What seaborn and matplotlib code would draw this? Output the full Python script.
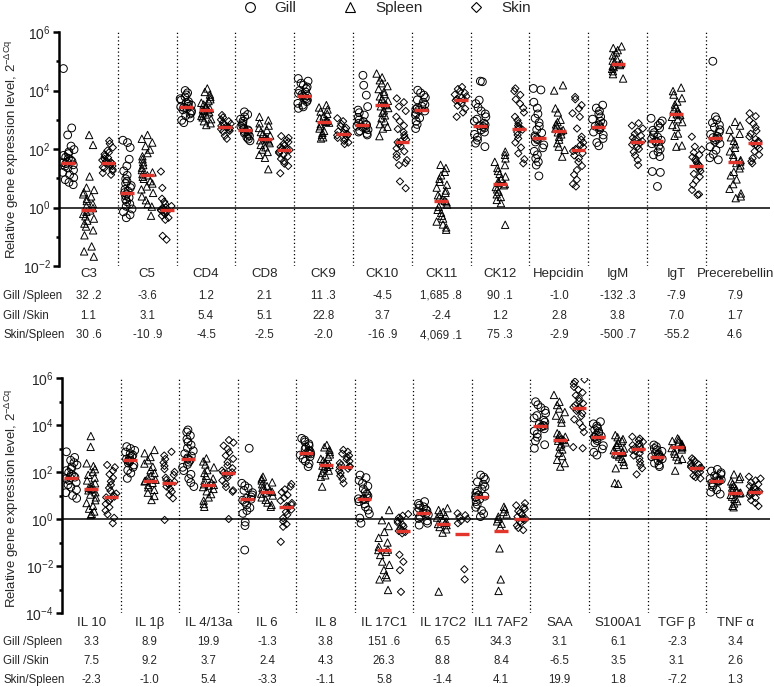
import numpy as np
import pandas as pd
import matplotlib
matplotlib.use("Agg")
import matplotlib.pyplot as plt
import matplotlib.transforms as mtrans
from matplotlib.lines import Line2D
from matplotlib.ticker import NullFormatter
import seaborn as sns

# ---------------------------------------------------------------- data
tissues = ["Gill", "Spleen", "Skin"]

top_genes = ["C3", "C5", "CD4", "CD8", "CK9", "CK10", "CK11", "CK12",
             "Hepcidin", "IgM", "IgT", "Precerebellin"]
bottom_genes = ["IL 10", "IL 1β", "IL 4/13a", "IL 6", "IL 8", "IL 17C1",
                "IL 17C2", "IL1 7AF2", "SAA", "S100A1", "TGF β", "TNF α"]

# log10(2^-dCq) per fish (one list per gene)
top_gill = [
    [4.75, 2.72, 2.48, 2.10, 1.98, 1.90, 1.84, 1.78, 1.72, 1.68, 1.63, 1.58, 1.55, 1.53, 1.50, 1.46, 1.41, 1.35, 1.28, 1.20, 1.12, 1.02, 0.95, 0.86, 0.78],
    [2.30, 2.22, 2.05, 1.65, 1.42, 1.25, 1.10, 0.98, 0.90, 0.82, 0.75, 0.68, 0.62, 0.56, 0.51, 0.46, 0.40, 0.34, 0.27, 0.20, 0.12, 0.04, -0.05, -0.15, -0.25, -0.35],
    [4.00, 3.92, 3.85, 3.78, 3.72, 3.67, 3.62, 3.58, 3.54, 3.50, 3.46, 3.44, 3.42, 3.38, 3.34, 3.30, 3.25, 3.20, 3.14, 3.06, 2.98, 2.90],
    [3.27, 3.18, 3.10, 3.02, 2.95, 2.88, 2.82, 2.77, 2.72, 2.68, 2.65, 2.62, 2.58, 2.54, 2.50, 2.45, 2.40, 2.34, 2.28],
    [4.41, 4.32, 4.25, 4.18, 4.12, 4.06, 4.00, 3.95, 3.90, 3.86, 3.82, 3.80, 3.76, 3.72, 3.67, 3.62, 3.56, 3.50, 3.44, 3.39],
    [4.52, 4.18, 3.84, 3.45, 3.33, 3.24, 3.16, 3.08, 3.00, 2.94, 2.88, 2.84, 2.82, 2.78, 2.74, 2.70, 2.66, 2.62, 2.58, 2.53, 2.48],
    [4.01, 3.92, 3.84, 3.76, 3.68, 3.60, 3.52, 3.46, 3.40, 3.36, 3.33, 3.30, 3.24, 3.16, 3.06, 2.95, 2.84, 2.70],
    [4.32, 4.30, 3.67, 3.55, 3.42, 3.30, 3.20, 3.10, 3.02, 2.95, 2.88, 2.83, 2.80, 2.77, 2.72, 2.66, 2.58, 2.50, 2.40, 2.30, 2.20, 2.08],
    [4.07, 4.02, 3.60, 3.40, 3.20, 3.05, 2.90, 2.78, 2.66, 2.55, 2.45, 2.40, 2.36, 2.32, 2.24, 2.14, 2.04, 1.92, 1.80, 1.68, 1.56, 1.45, 1.08],
    [3.50, 3.40, 3.30, 3.20, 3.10, 3.02, 2.95, 2.88, 2.82, 2.78, 2.76, 2.72, 2.66, 2.58, 2.48, 2.36, 2.22, 2.11],
    [3.05, 2.96, 2.88, 2.80, 2.72, 2.64, 2.56, 2.48, 2.41, 2.35, 2.30, 2.27, 2.24, 2.18, 2.10, 2.00, 1.90, 1.80, 1.74, 1.23, 1.20, 0.72],
    [5.00, 3.10, 3.00, 2.90, 2.82, 2.74, 2.66, 2.58, 2.50, 2.44, 2.39, 2.36, 2.32, 2.26, 2.18, 2.08, 1.96, 1.82, 1.70, 1.63],
]
top_spleen = [
    [2.48, 2.14, 1.06, 0.68, 0.60, 0.52, 0.45, 0.38, 0.30, 0.22, 0.12, 0.05, -0.02, -0.10, -0.15, -0.22, -0.30, -0.38, -0.45, -0.55, -0.65, -0.78, -0.95, -1.33, -1.50, -1.68],
    [2.48, 2.35, 2.22, 2.10, 1.98, 1.86, 1.75, 1.65, 1.55, 1.45, 1.36, 1.28, 1.20, 1.14, 1.10, 1.05, 0.98, 0.90, 0.82, 0.72, 0.62, 0.50, 0.38, 0.25, 0.12, 0.03, -0.28],
    [4.07, 3.95, 3.86, 3.78, 3.70, 3.64, 3.58, 3.52, 3.47, 3.42, 3.38, 3.35, 3.33, 3.30, 3.26, 3.22, 3.18, 3.13, 3.08, 3.02, 2.95, 2.88, 2.82],
    [3.10, 2.98, 2.88, 2.80, 2.72, 2.65, 2.58, 2.52, 2.46, 2.40, 2.36, 2.33, 2.30, 2.26, 2.20, 2.14, 2.06, 1.98, 1.90, 1.80, 1.70, 1.31],
    [3.50, 3.42, 3.35, 3.28, 3.20, 3.12, 3.06, 3.00, 2.96, 2.93, 2.90, 2.85, 2.78, 2.70, 2.62, 2.55, 2.48, 2.40, 2.36],
    [4.58, 4.45, 4.35, 4.25, 4.15, 4.05, 3.96, 3.88, 3.80, 3.72, 3.65, 3.58, 3.53, 3.50, 3.46, 3.40, 3.32, 3.24, 3.15, 3.05, 2.95, 2.85, 2.76, 2.70, 2.44],
    [1.46, 1.35, 1.22, 1.10, 0.98, 0.88, 0.78, 0.68, 0.58, 0.50, 0.42, 0.35, 0.28, 0.23, 0.18, 0.10, 0.02, -0.08, -0.18, -0.28, -0.38, -0.48, -0.58, -0.68, -0.76],
    [1.91, 1.80, 1.68, 1.56, 1.45, 1.35, 1.25, 1.15, 1.06, 0.98, 0.90, 0.84, 0.80, 0.76, 0.70, 0.62, 0.54, 0.45, 0.36, 0.26, 0.15, -0.59],
    [4.18, 4.00, 3.39, 3.25, 3.00, 2.92, 2.84, 2.77, 2.70, 2.65, 2.61, 2.57, 2.50, 2.42, 2.32, 2.20, 2.08, 1.97, 1.74],
    [5.51, 5.45, 5.38, 5.30, 5.20, 5.10, 5.02, 4.97, 4.93, 4.90, 4.87, 4.84, 4.80, 4.74, 4.66, 4.56, 4.41],
    [4.10, 3.98, 3.86, 3.74, 3.62, 3.52, 3.43, 3.35, 3.28, 3.22, 3.19, 3.16, 3.10, 3.02, 2.92, 2.82, 2.76, 2.53, 2.45, 2.12, 2.08],
    [2.93, 2.80, 2.66, 2.52, 2.40, 2.28, 2.16, 2.04, 1.92, 1.80, 1.70, 1.62, 1.57, 1.52, 1.44, 1.34, 1.22, 1.10, 0.96, 0.80, 0.64, 0.48, 0.38, 0.32],
]
top_skin = [
    [2.28, 2.18, 2.05, 1.95, 1.88, 1.82, 1.75, 1.70, 1.66, 1.62, 1.58, 1.55, 1.53, 1.51, 1.48, 1.45, 1.42, 1.38, 1.34, 1.30, 1.25, 1.18, 1.12],
    [1.23, 0.67, 0.30, 0.20, 0.12, 0.05, 0.00, -0.03, -0.06, -0.08, -0.10, -0.12, -0.15, -0.18, -0.22, -0.28, -0.35, -0.42, -0.97, -1.10],
    [3.16, 3.08, 3.00, 2.95, 2.90, 2.86, 2.82, 2.79, 2.76, 2.74, 2.71, 2.68, 2.65, 2.62, 2.59, 2.45, 2.35],
    [2.44, 2.38, 2.30, 2.24, 2.18, 2.12, 2.07, 2.02, 1.99, 1.97, 1.94, 1.90, 1.86, 1.80, 1.74, 1.66, 1.58, 1.50, 1.42, 1.17],
    [3.05, 2.95, 2.86, 2.78, 2.72, 2.66, 2.60, 2.55, 2.52, 2.50, 2.47, 2.43, 2.38, 2.33, 2.28, 2.22, 2.17],
    [3.73, 3.60, 3.45, 3.30, 3.10, 2.95, 2.80, 2.68, 2.58, 2.48, 2.40, 2.32, 2.26, 2.23, 2.18, 2.10, 2.02, 1.92, 1.82, 1.72, 1.62, 1.52, 1.45, 0.89, 0.66],
    [4.12, 4.05, 3.98, 3.92, 3.86, 3.80, 3.75, 3.71, 3.69, 3.66, 3.62, 3.56, 3.48, 3.38, 3.25, 3.10],
    [4.07, 3.98, 3.85, 3.70, 3.55, 3.40, 3.25, 3.10, 2.98, 2.88, 2.80, 2.74, 2.70, 2.66, 2.58, 2.48, 2.36, 2.22, 2.05, 1.85, 1.65, 1.51],
    [3.78, 3.70, 3.50, 3.38, 3.22, 3.10, 2.70, 2.42, 2.32, 2.22, 2.14, 2.06, 2.00, 1.97, 1.93, 1.86, 1.78, 1.68, 1.56, 1.42, 1.28, 1.12, 0.95, 0.80, 0.72],
    [2.88, 2.80, 2.70, 2.60, 2.52, 2.45, 2.38, 2.32, 2.27, 2.23, 2.20, 2.15, 2.08, 2.00, 1.90, 1.78, 1.62, 1.45],
    [2.42, 2.08, 1.98, 1.88, 1.80, 1.72, 1.65, 1.58, 1.52, 1.47, 1.42, 1.38, 1.32, 1.24, 1.15, 1.05, 0.92, 0.78, 0.60, 0.45, 0.43],
    [3.22, 3.12, 2.98, 2.86, 2.74, 2.62, 2.52, 2.42, 2.34, 2.27, 2.22, 2.19, 2.16, 2.10, 2.02, 1.92, 1.80, 1.68, 1.58, 1.51],
]

bottom_gill = [
    [2.86, 2.62, 2.50, 2.40, 2.30, 2.22, 2.14, 2.06, 1.98, 1.90, 1.84, 1.78, 1.76, 1.72, 1.64, 1.56, 1.46, 1.36, 1.24, 1.12, 1.00, 0.88],
    [3.08, 3.00, 2.92, 2.85, 2.78, 2.72, 2.66, 2.60, 2.55, 2.51, 2.48, 2.44, 2.38, 2.30, 2.20, 2.08, 1.95, 1.73],
    [3.79, 3.70, 3.55, 3.40, 3.28, 3.15, 3.02, 2.90, 2.78, 2.68, 2.60, 2.55, 2.50, 2.42, 2.32, 2.20, 2.06, 1.90, 1.72, 1.55, 1.38],
    [3.01, 1.52, 1.42, 1.32, 1.22, 1.12, 1.02, 0.94, 0.88, 0.84, 0.80, 0.72, 0.60, 0.48, 0.36, 0.24, -0.13, -0.28, -1.32],
    [3.43, 3.36, 3.28, 3.20, 3.12, 3.05, 2.98, 2.92, 2.87, 2.82, 2.80, 2.77, 2.72, 2.65, 2.56, 2.46, 2.35, 2.23],
    [1.87, 1.76, 1.64, 1.52, 1.40, 1.28, 1.16, 1.06, 0.98, 0.90, 0.86, 0.85, 0.82, 0.74, 0.64, 0.52, 0.38, 0.22, 0.04, -0.18],
    [0.74, 0.66, 0.58, 0.52, 0.46, 0.40, 0.35, 0.30, 0.27, 0.24, 0.18, 0.10, 0.02, -0.08, -0.18, -0.26],
    [1.87, 1.78, 1.68, 1.58, 1.48, 1.38, 1.28, 1.18, 1.10, 1.02, 0.97, 0.95, 0.92, 0.84, 0.74, 0.62, 0.50, 0.36, 0.22, 0.10],
    [4.99, 4.86, 4.74, 4.62, 4.50, 4.40, 4.30, 4.20, 4.12, 4.04, 3.98, 3.96, 3.92, 3.84, 3.74, 3.62, 3.48, 3.32, 3.16, 3.01],
    [4.14, 4.05, 3.96, 3.88, 3.80, 3.72, 3.65, 3.58, 3.53, 3.50, 3.47, 3.42, 3.34, 3.24, 3.12, 2.98, 2.84, 2.72],
    [3.15, 3.08, 3.00, 2.94, 2.88, 2.82, 2.76, 2.70, 2.66, 2.65, 2.62, 2.56, 2.48, 2.38, 2.30, 2.23],
    [2.11, 2.04, 1.97, 1.90, 1.84, 1.78, 1.72, 1.67, 1.64, 1.63, 1.60, 1.54, 1.46, 1.36, 1.24, 1.14, 1.06],
]
bottom_spleen = [
    [3.53, 3.07, 2.37, 2.25, 2.12, 2.00, 1.88, 1.76, 1.64, 1.52, 1.42, 1.33, 1.28, 1.26, 1.22, 1.14, 1.04, 0.92, 0.80, 0.68, 0.56, 0.44, 0.32, 0.22, 0.17],
    [2.94, 2.80, 2.64, 2.50, 2.36, 2.22, 2.08, 1.96, 1.85, 1.75, 1.67, 1.63, 1.60, 1.54, 1.45, 1.35, 1.24, 1.12, 0.98, 0.81],
    [2.58, 2.45, 2.32, 2.20, 2.08, 1.96, 1.84, 1.72, 1.62, 1.54, 1.48, 1.45, 1.42, 1.36, 1.28, 1.18, 1.06, 0.92, 0.78, 0.64, 0.52],
    [1.80, 1.72, 1.64, 1.56, 1.48, 1.40, 1.33, 1.27, 1.21, 1.16, 1.13, 1.08, 1.00, 0.92, 0.82, 0.70, 0.60, 0.52],
    [3.15, 3.05, 2.95, 2.85, 2.75, 2.65, 2.56, 2.48, 2.40, 2.34, 2.30, 2.27, 2.22, 2.15, 2.06, 1.96, 1.86, 1.80, 1.38],
    [0.38, -0.05, -0.30, -0.55, -0.80, -1.00, -1.18, -1.30, -1.32, -1.40, -1.53, -1.81, -1.95, -2.17, -2.38, -2.48, -2.57, -3.02],
    [0.46, 0.38, 0.30, 0.22, 0.14, 0.06, -0.02, -0.10, -0.16, -0.21, -0.26, -0.34, -0.44, -0.58, -3.09],
    [0.52, 0.42, 0.30, 0.20, 0.10, 0.00, -0.10, -0.20, -0.33, -1.25, -2.57, -3.06],
    [5.28, 4.99, 4.85, 4.70, 4.55, 4.40, 4.25, 4.10, 3.65, 3.58, 3.50, 3.44, 3.39, 3.36, 3.33, 3.26, 3.18, 3.08, 2.96, 2.82, 2.68, 2.52, 2.38, 2.23],
    [3.57, 3.48, 3.40, 3.32, 3.24, 3.16, 3.08, 3.00, 2.93, 2.86, 2.82, 2.79, 2.74, 2.66, 2.56, 2.44, 2.30, 2.16, 1.53, 1.50],
    [3.43, 3.38, 3.32, 3.26, 3.20, 3.15, 3.10, 3.06, 3.05, 3.02, 2.96, 2.88, 2.78, 2.66, 2.56, 2.51, 2.06],
    [1.90, 1.80, 1.70, 1.60, 1.50, 1.42, 1.34, 1.26, 1.19, 1.14, 1.12, 1.09, 1.03, 0.95, 0.86, 0.76, 0.66, 0.56, 0.50],
]
bottom_skin = [
    [2.30, 2.20, 2.05, 1.90, 1.75, 1.60, 1.45, 1.32, 1.20, 1.08, 1.00, 0.95, 0.92, 0.86, 0.76, 0.64, 0.50, 0.36, 0.20, 0.05, -0.18],
    [2.86, 2.70, 2.55, 2.40, 2.26, 2.12, 2.00, 1.88, 1.76, 1.66, 1.58, 1.55, 1.52, 1.46, 1.38, 1.28, 1.16, 1.02, 0.88, -0.04],
    [3.36, 3.25, 3.12, 2.98, 2.84, 2.70, 2.56, 2.42, 2.28, 2.16, 2.06, 1.99, 1.97, 1.94, 1.86, 1.76, 1.64, 1.50, 1.36, 1.22, 1.16, 0.00],
    [1.49, 1.38, 1.26, 1.14, 1.02, 0.90, 0.78, 0.68, 0.60, 0.55, 0.52, 0.48, 0.40, 0.30, 0.18, 0.04, -0.10, -0.22, -0.33, -0.97],
    [2.94, 2.86, 2.78, 2.70, 2.62, 2.54, 2.46, 2.38, 2.30, 2.25, 2.23, 2.20, 2.14, 2.06, 1.96, 1.84, 1.70, 1.52],
    [0.21, 0.14, 0.06, 0.00, -0.08, -0.16, -0.24, -0.32, -0.40, -0.48, -0.51, -0.55, -0.61, -1.52, -1.82, -2.18, -3.10],
    [0.24, 0.16, 0.08, 0.00, -0.08, -0.18, -2.14, -2.57],
    [0.67, 0.58, 0.50, 0.42, 0.34, 0.26, 0.18, 0.10, 0.04, 0.00, -0.04, -0.10, -0.18, -0.28, -0.38, -0.47],
    [5.94, 5.85, 5.75, 5.62, 5.50, 5.38, 5.26, 5.14, 5.02, 4.92, 4.84, 4.76, 4.72, 4.68, 4.60, 4.50, 4.38, 4.24, 4.08, 3.90, 3.70, 3.06, 3.01],
    [3.50, 3.42, 3.35, 3.28, 3.21, 3.14, 3.08, 3.02, 2.97, 2.94, 2.88, 2.80, 2.70, 2.58, 2.44, 2.30, 2.16, 1.90],
    [2.58, 2.52, 2.45, 2.38, 2.32, 2.26, 2.21, 2.18, 2.17, 2.14, 2.08, 2.00, 1.92, 1.84, 1.78, 1.73],
    [1.80, 1.72, 1.64, 1.56, 1.48, 1.40, 1.33, 1.27, 1.21, 1.17, 1.16, 1.13, 1.07, 0.99, 0.90, 0.80, 0.68, 0.55],
]

# red group bars (log10)
top_bar_gill = [1.53, 0.51, 3.44, 2.65, 3.82, 2.82, 3.33, 2.80, 2.36, 2.76, 2.27, 2.36]
top_bar_spleen = [-0.10, 1.11, 3.35, 2.33, 2.93, 3.50, 0.23, 0.80, 2.61, 4.90, 3.19, 1.57]
top_bar_skin = [1.53, -0.10, 2.76, 1.97, 2.50, 2.23, 3.69, 2.70, 1.97, 2.23, 1.42, 2.19]
bottom_bar_gill = [1.76, 2.51, 2.55, 0.84, 2.80, 0.85, 0.27, 0.95, 3.96, 3.50, 2.65, 1.63]
bottom_bar_spleen = [1.26, 1.63, 1.45, 1.16, 2.30, -1.32, -0.21, -0.50, 3.36, 2.82, 3.05, 1.12]
bottom_bar_skin = [0.95, 1.55, 1.97, 0.52, 2.23, -0.51, -0.65, 0.00, 4.72, 2.97, 2.17, 1.16]

# fold-change table
row_names = ["Gill /Spleen", "Gill /Skin", "Skin/Spleen"]
top_gill_spleen = ["32 .2", "-3.6", "1.2", "2.1", "11 .3", "-4.5", "1,685 .8", "90 .1", "-1.0", "-132 .3", "-7.9", "7.9"]
top_gill_skin = ["1.1", "3.1", "5.4", "5.1", "22.8", "3.7", "-2.4", "1.2", "2.8", "3.8", "7.0", "1.7"]
top_skin_spleen = ["30 .6", "-10 .9", "-4.5", "-2.5", "-2.0", "-16 .9", "4,069 .1", "75 .3", "-2.9", "-500 .7", "-55.2", "4.6"]
bottom_gill_spleen = ["3.3", "8.9", "19.9", "-1.3", "3.8", "151 .6", "6.5", "34.3", "3.1", "6.1", "-2.3", "3.4"]
bottom_gill_skin = ["7.5", "9.2", "3.7", "2.4", "4.3", "26.3", "8.8", "8.4", "-6.5", "3.5", "3.1", "2.6"]
bottom_skin_spleen = ["-2.3", "-1.0", "5.4", "-3.3", "-1.1", "5.8", "-1.4", "4.1", "19.9", "1.8", "-7.2", "1.3"]

# ---------------------------------------------------------------- style
sns.set_theme(style="white")
plt.rcParams["font.family"] = ["Liberation Sans", "DejaVu Sans"]
plt.rcParams["mathtext.default"] = "regular"

RED = "#e2352c"
offsets = {"Gill": -0.34, "Spleen": 0.0, "Skin": 0.33}
mstyle = {"Gill": ("o", 5.6), "Spleen": ("^", 5.3), "Skin": ("D", 3.7)}
W, H = 774, 687


def long_frame(sets):
    rows = []
    for t, per_gene in zip(tissues, sets):
        for i, vals in enumerate(per_gene):
            for v in vals:
                rows.append((i + offsets[t], t, 10.0 ** v))
    return pd.DataFrame(rows, columns=["pos", "tissue", "level"])


def draw_panel(ax, genes, pts, bars, ymin, table, y_gene, y_rows):
    ax.set_yscale("log")
    df = long_frame(pts)
    bf = long_frame([[[b] for b in bl] for bl in bars])
    np.random.seed(7)
    for t in tissues:
        m, s = mstyle[t]
        sns.stripplot(data=df[df.tissue == t], x="pos", y="level", native_scale=True,
                      orient="x", jitter=0.1, marker=m, size=s, color="black",
                      facecolor="none", edgecolor="black", linewidth=0.7,
                      ax=ax, zorder=3)
    sns.scatterplot(data=bf, x="pos", y="level", marker="_", s=10.6 ** 2,
                    linewidth=2.4, color=RED, ax=ax, zorder=4, legend=False)

    ax.set_xlim(-0.5, 11.59)
    ax.set_ylim(10.0 ** ymin, 1e6)
    ax.axhline(1, color="black", lw=1.1, zorder=2)
    for k in range(11):
        ax.axvline(k + 0.5, color="black", lw=0.9, ls=(0, (1, 2)), zorder=1)

    for side in ["top", "right", "bottom"]:
        ax.spines[side].set_visible(False)
    ax.spines["left"].set_linewidth(1.8)
    ax.spines["left"].set_color("black")
    ax.set_xticks([])
    ax.set_xlabel("")
    ax.set_yticks([10.0 ** e for e in range(ymin, 7, 2)])
    ax.set_yticks([10.0 ** e for e in range(ymin + 1, 6, 2)], minor=True)
    ax.yaxis.set_minor_formatter(NullFormatter())
    ax.tick_params(axis="y", which="major", length=4.5, width=1.8, labelsize=10,
                   pad=1.5, left=True, color="black")
    ax.tick_params(axis="y", which="minor", length=2.5, width=1.8, left=True,
                   color="black")
    ax.set_ylabel("Relative gene expression level, 2$^{-ΔCq}$", fontsize=9.5)

    trans = mtrans.blended_transform_factory(ax.transData, fig.transFigure)
    for i, g in enumerate(genes):
        ax.text(i, 1 - y_gene / H, g, transform=trans, ha="center",
                va="baseline", fontsize=9.5)
    for name, vals, yb in zip(row_names, table, y_rows):
        fig.text(3 / W, 1 - yb / H, name, ha="left", va="baseline", fontsize=8.3)
        for i, v in enumerate(vals):
            ax.text(i, 1 - yb / H, v, transform=trans, ha="center",
                    va="baseline", fontsize=8.3)


fig = plt.figure(figsize=(W / 100, H / 100), dpi=100)
ax_top = fig.add_axes([59 / W, 1 - 266 / H, (770 - 59) / W, 234 / H])
ax_bot = fig.add_axes([62 / W, 1 - 613 / H, (770 - 62) / W, 235 / H])

draw_panel(ax_top, top_genes, [top_gill, top_spleen, top_skin],
           [top_bar_gill, top_bar_spleen, top_bar_skin], -2,
           [top_gill_spleen, top_gill_skin, top_skin_spleen], 277, [299, 319, 338])
draw_panel(ax_bot, bottom_genes, [bottom_gill, bottom_spleen, bottom_skin],
           [bottom_bar_gill, bottom_bar_spleen, bottom_bar_skin], -4,
           [bottom_gill_spleen, bottom_gill_skin, bottom_skin_spleen], 626, [645, 664, 683])
ax_top.yaxis.set_label_coords((21 - 59) / (770 - 59), 0.5)
ax_bot.yaxis.set_label_coords((21 - 62) / (770 - 62), 0.49)

handles = [Line2D([], [], ls="none", marker=mstyle[t][0], markersize=ms,
                  markerfacecolor="none", markeredgecolor="black", markeredgewidth=0.8)
           for t, ms in zip(tissues, [7.0, 7.0, 5.0])]
fig.legend(handles, tissues, loc="center left", bbox_to_anchor=(242 / W, 1 - 8 / H),
           ncol=3, frameon=False, fontsize=11, handlelength=1.0, handletextpad=1.14,
           columnspacing=3.0, borderpad=0, borderaxespad=0)

fig.savefig("out.png", dpi=100)
